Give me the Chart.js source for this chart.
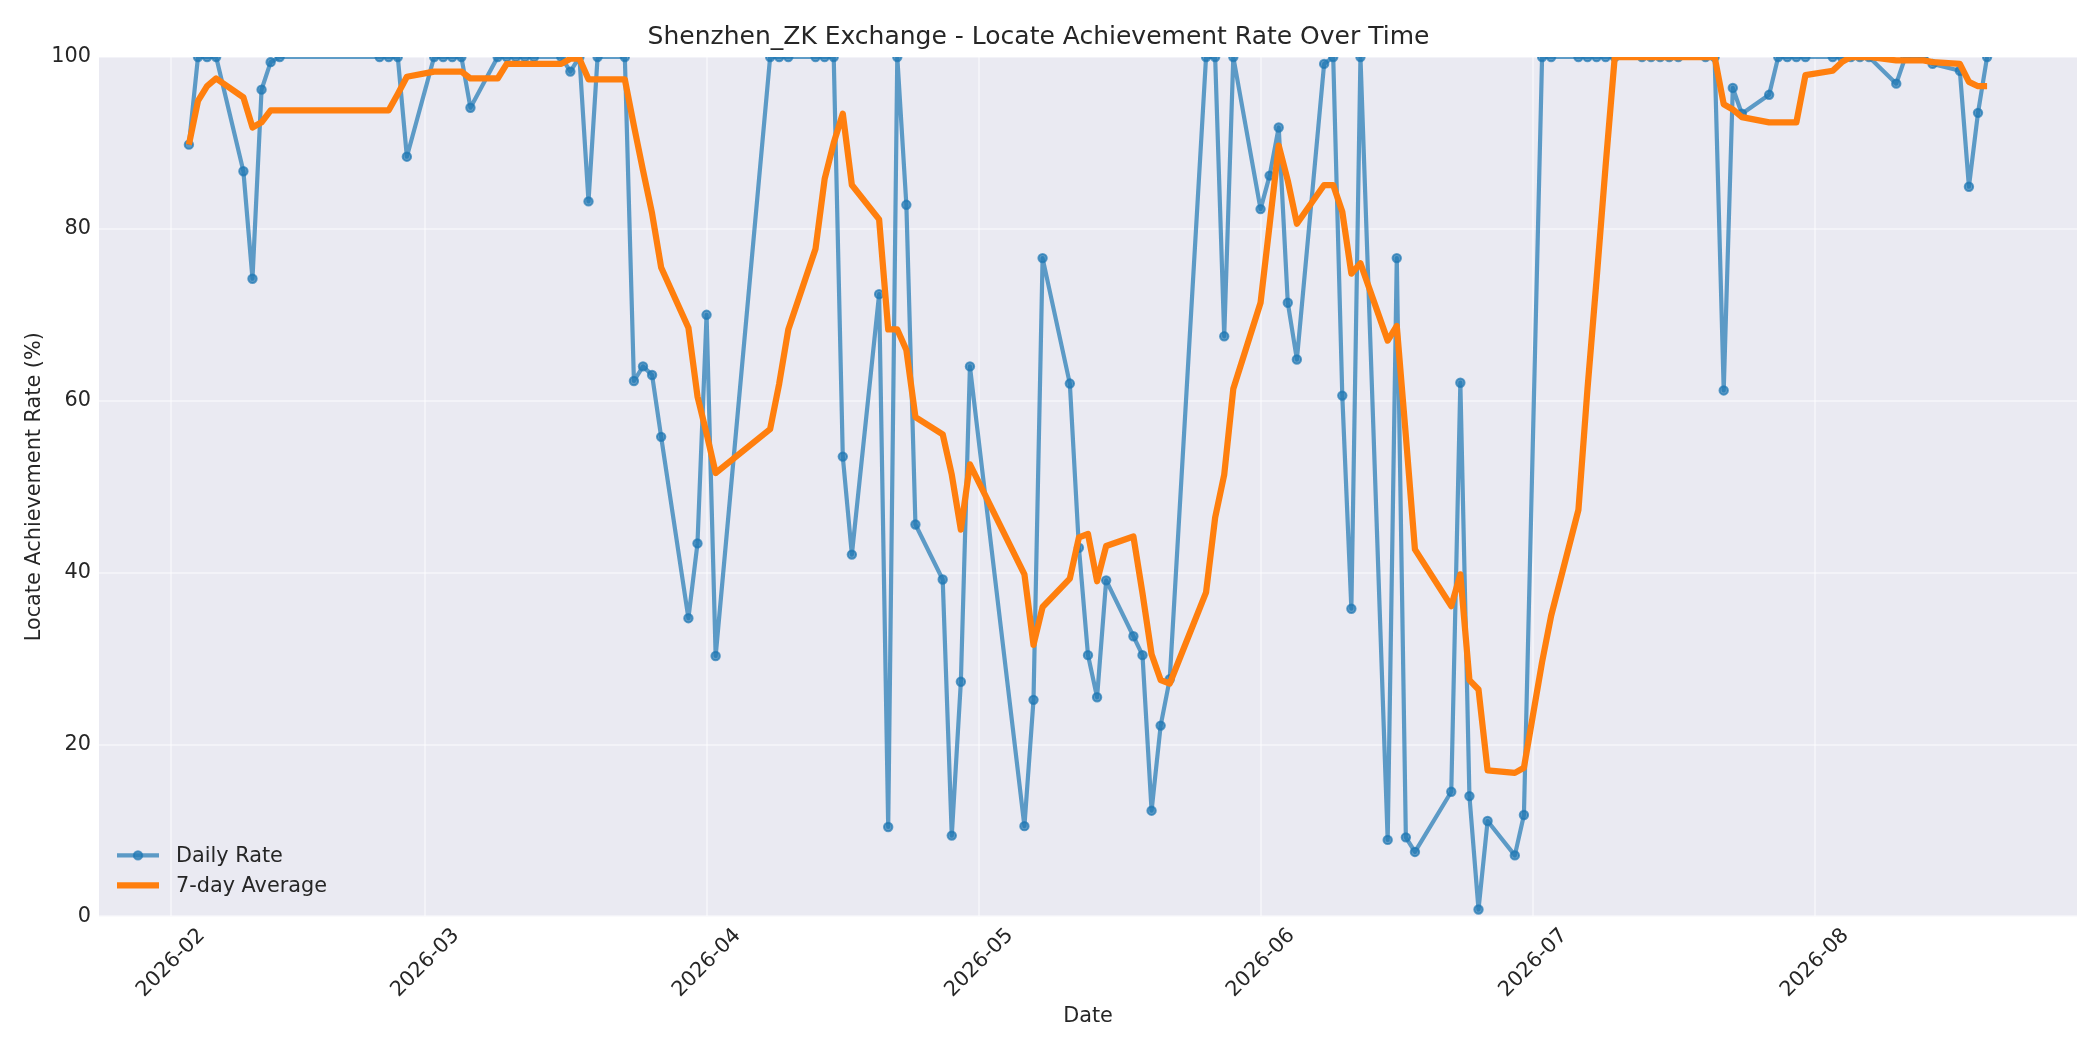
<!DOCTYPE html>
<html>
<head>
<meta charset="utf-8">
<title>Shenzhen_ZK Exchange - Locate Achievement Rate Over Time</title>
<script src="https://cdn.jsdelivr.net/npm/chart.js@4.4.1/dist/chart.umd.min.js"></script>
<style>
  html, body { margin: 0; padding: 0; background: #ffffff; }
  canvas { display: block; }
</style>
</head>
<body>
<canvas id="rateChart" width="2100" height="1050"></canvas>
<script>
const dates = [
  '2026-02-03', '2026-02-04', '2026-02-05', '2026-02-06', '2026-02-09', '2026-02-10', '2026-02-11', '2026-02-12', '2026-02-13',
  '2026-02-24', '2026-02-25', '2026-02-26', '2026-02-27',
  '2026-03-02', '2026-03-03', '2026-03-04', '2026-03-05', '2026-03-06',
  '2026-03-09', '2026-03-10', '2026-03-11', '2026-03-12', '2026-03-13',
  '2026-03-16', '2026-03-17', '2026-03-18', '2026-03-19', '2026-03-20',
  '2026-03-23', '2026-03-24', '2026-03-25', '2026-03-26', '2026-03-27',
  '2026-03-30', '2026-03-31', '2026-04-01', '2026-04-02',
  '2026-04-08', '2026-04-09', '2026-04-10',
  '2026-04-13', '2026-04-14', '2026-04-15', '2026-04-16', '2026-04-17',
  '2026-04-20', '2026-04-21', '2026-04-22', '2026-04-23', '2026-04-24',
  '2026-04-27', '2026-04-28', '2026-04-29', '2026-04-30',
  '2026-05-06', '2026-05-07', '2026-05-08',
  '2026-05-11', '2026-05-12', '2026-05-13', '2026-05-14', '2026-05-15',
  '2026-05-18', '2026-05-19', '2026-05-20', '2026-05-21', '2026-05-22',
  '2026-05-26', '2026-05-27', '2026-05-28', '2026-05-29',
  '2026-06-01', '2026-06-02', '2026-06-03', '2026-06-04', '2026-06-05',
  '2026-06-08', '2026-06-09', '2026-06-10', '2026-06-11', '2026-06-12',
  '2026-06-15', '2026-06-16', '2026-06-17', '2026-06-18',
  '2026-06-22', '2026-06-23', '2026-06-24', '2026-06-25', '2026-06-26',
  '2026-06-29', '2026-06-30',
  '2026-07-02', '2026-07-03',
  '2026-07-06', '2026-07-07', '2026-07-08', '2026-07-09', '2026-07-10',
  '2026-07-13', '2026-07-14', '2026-07-15', '2026-07-16', '2026-07-17',
  '2026-07-20', '2026-07-21', '2026-07-22', '2026-07-23', '2026-07-24',
  '2026-07-27', '2026-07-28', '2026-07-29', '2026-07-30', '2026-07-31',
  '2026-08-03', '2026-08-04', '2026-08-05', '2026-08-06', '2026-08-07',
  '2026-08-10', '2026-08-11', '2026-08-12', '2026-08-13', '2026-08-14',
  '2026-08-17', '2026-08-18', '2026-08-19', '2026-08-20'
];

const dailyRate = [
  89.8, 100, 100, 100, 86.7, 74.2, 96.2, 99.4, 100,
  100, 100, 100, 88.4,
  100, 100, 100, 100, 94.1,
  100, 100, 100, 100, 100,
  100, 98.3, 100, 83.2, 100,
  100, 62.3, 64.0, 63.0, 55.8,
  34.7, 43.4, 70.0, 30.3,
  100, 100, 100,
  100, 100, 100, 53.5, 42.1,
  72.4, 10.4, 100, 82.8, 45.6,
  39.2, 9.4, 27.3, 64.0,
  10.5, 25.2, 76.6,
  62.0, 42.9, 30.4, 25.5, 39.1,
  32.6, 30.4, 12.3, 22.2, 27.6,
  100, 100, 67.5, 100,
  82.3, 86.2, 91.8, 71.4, 64.8,
  99.2, 100, 60.6, 35.8, 100,
  8.9, 76.6, 9.2, 7.5,
  14.5, 62.1, 14.0, 0.8, 11.1,
  7.1, 11.8,
  100, 100,
  100, 100, 100, 100, 100,
  100, 100, 100, 100, 100,
  100, 100, 61.2, 96.4, 93.4,
  95.6, 100, 100, 100, 100,
  100, 100, 100, 100, 100,
  96.9, 100, 100, 100, 99.2,
  98.4, 84.9, 93.5, 100
];

const weeklyAvg = [
  89.8, 94.9, 96.6, 97.5, 95.3, 91.8, 92.4, 93.8, 93.8,
  93.8, 93.8, 95.7, 97.7,
  98.3, 98.3, 98.3, 98.3, 97.5,
  97.5, 99.2, 99.2, 99.2, 99.2,
  99.2, 99.8, 99.8, 97.4, 97.4,
  97.4, 92.0, 86.8, 81.8, 75.5,
  68.5, 60.5, 56.2, 51.6,
  56.7, 62.0, 68.3,
  77.7, 85.8, 90.0, 93.4, 85.1,
  81.1, 68.3, 68.3, 65.9, 58.1,
  56.1, 51.4, 45.0, 52.6,
  39.8, 31.6, 36.0,
  39.3, 44.1, 44.5, 39.0, 43.1,
  44.2, 37.6, 30.5, 27.5, 27.1,
  37.7, 46.4, 51.4, 61.4,
  71.4, 80.5, 89.7, 85.6, 80.6,
  85.1, 85.1, 82.0, 74.8, 76.0,
  67.0, 68.7, 55.9, 42.7,
  36.1, 39.8, 27.5, 26.4, 17.0,
  16.7, 17.3,
  29.6, 35.0,
  47.3, 61.4, 74.1, 87.4, 100,
  100, 100, 100, 100, 100,
  100, 100, 94.5, 93.9, 93.0,
  92.4, 92.4, 92.4, 92.4, 97.9,
  98.4, 99.4, 100, 100, 100,
  99.6, 99.6, 99.6, 99.6, 99.4,
  99.2, 97.1, 96.6, 96.6
];

const monthTicks = ['2026-02-01', '2026-03-01', '2026-04-01', '2026-05-01', '2026-06-01', '2026-07-01', '2026-08-01'];
const tickLabels = ['2026-02', '2026-03', '2026-04', '2026-05', '2026-06', '2026-07', '2026-08'];

// dates become day numbers counted from 1 Feb, so a linear axis can place them
const DAY0 = Date.UTC(2026, 1, 1);
function dayNumber(s) {
  const [y, m, d] = s.split('-').map(Number);
  return (Date.UTC(y, m - 1, d) - DAY0) / 86400000;
}
const xs = dates.map(dayNumber);
const tickDays = monthTicks.map(dayNumber);
const span = xs[xs.length - 1] - xs[0];
const xMin = xs[0] - span * 0.05;
const xMax = xs[xs.length - 1] + span * 0.05;

const textColor = '#262626';
const fontFamily = '"DejaVu Sans", "Liberation Sans", sans-serif';
const gridColor = 'rgba(255, 255, 255, 0.45)';

const plotBackground = {
  id: 'plotBackground',
  beforeDraw(chart) {
    const { ctx, chartArea: a } = chart;
    ctx.save();
    ctx.fillStyle = '#EAEAF2';
    ctx.fillRect(a.left, a.top, a.right - a.left, a.bottom - a.top);
    ctx.restore();
  }
};

// matplotlib-like legend in the lower left corner of the plot
const cornerLegend = {
  id: 'cornerLegend',
  afterDraw(chart) {
    const { ctx, chartArea: a } = chart;
    const x0 = a.left + 18;
    const len = 42;
    const rows = [a.bottom - 61, a.bottom - 31];
    chart.data.datasets.forEach((ds, i) => {
      const y = rows[i];
      ctx.save();
      ctx.strokeStyle = ds.borderColor;
      ctx.lineWidth = ds.borderWidth;
      ctx.lineCap = 'butt';
      ctx.beginPath();
      ctx.moveTo(x0, y);
      ctx.lineTo(x0 + len, y);
      ctx.stroke();
      if (ds.pointRadius > 0) {
        ctx.beginPath();
        ctx.arc(x0 + len / 2, y, ds.pointRadius, 0, Math.PI * 2);
        ctx.fillStyle = ds.pointBackgroundColor;
        ctx.fill();
        ctx.lineWidth = ds.pointBorderWidth;
        ctx.strokeStyle = ds.pointBorderColor;
        ctx.stroke();
      }
      ctx.fillStyle = textColor;
      ctx.font = '20.8px ' + fontFamily;
      ctx.textBaseline = 'middle';
      ctx.textAlign = 'left';
      ctx.fillText(ds.label, x0 + len + 17, y + 1);
      ctx.restore();
    });
  }
};

const blue = 'rgba(31, 119, 180, 0.7)';

new Chart(document.getElementById('rateChart'), {
  type: 'line',
  data: {
    datasets: [
      {
        label: 'Daily Rate',
        data: xs.map((x, i) => ({ x: x, y: dailyRate[i] })),
        borderColor: blue,
        borderWidth: 4.2,
        borderJoinStyle: 'round',
        pointRadius: 4.2,
        pointBorderWidth: 2,
        pointBackgroundColor: blue,
        pointBorderColor: blue,
        tension: 0,
        order: 1
      },
      {
        label: '7-day Average',
        data: xs.map((x, i) => ({ x: x, y: weeklyAvg[i] })),
        borderColor: '#ff7f0e',
        borderWidth: 6.25,
        borderJoinStyle: 'round',
        pointRadius: 0,
        tension: 0,
        order: 0
      }
    ]
  },
  options: {
    responsive: false,
    maintainAspectRatio: false,
    devicePixelRatio: 1,
    animation: false,
    layout: { padding: { left: 0, right: 23, top: 0, bottom: 0 } },
    plugins: {
      legend: { display: false },
      tooltip: { enabled: false },
      title: {
        display: true,
        text: 'Shenzhen_ZK Exchange - Locate Achievement Rate Over Time',
        color: textColor,
        font: { family: fontFamily, size: 25, weight: 'normal' },
        padding: { top: 22, bottom: 5 }
      }
    },
    scales: {
      x: {
        type: 'linear',
        min: xMin,
        max: xMax,
        afterBuildTicks: (scale) => {
          scale.ticks = tickDays.map((v) => ({ value: v }));
        },
        afterFit: (scale) => { scale.height = 133.6; },
        ticks: {
          autoSkip: false,
          minRotation: 45,
          maxRotation: 45,
          padding: 7,
          labelOffset: 31,
          color: textColor,
          font: { family: fontFamily, size: 20.8 },
          callback: (value) => tickLabels[tickDays.indexOf(value)]
        },
        grid: { color: gridColor, lineWidth: 2, drawTicks: false },
        border: { display: false },
        title: {
          display: true,
          text: 'Date',
          color: textColor,
          font: { family: fontFamily, size: 20.8 },
          padding: { top: 0, bottom: 21 }
        }
      },
      y: {
        min: 0,
        max: 100,
        afterFit: (scale) => { scale.width = 99; },
        ticks: {
          stepSize: 20,
          padding: 8,
          color: textColor,
          font: { family: fontFamily, size: 20.8 }
        },
        grid: { color: gridColor, lineWidth: 2, drawTicks: false },
        border: { display: false },
        title: {
          display: true,
          text: 'Locate Achievement Rate (%)',
          color: textColor,
          font: { family: fontFamily, size: 20.8 },
          padding: { top: 22, bottom: 0 }
        }
      }
    }
  },
  plugins: [plotBackground, cornerLegend]
});
</script>
</body>
</html>
